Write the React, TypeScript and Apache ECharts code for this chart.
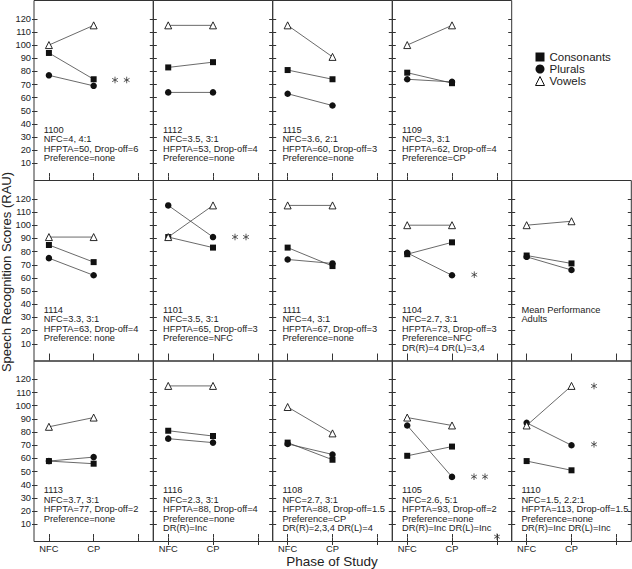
import React, { useEffect, useRef } from "react";
import * as echarts from "echarts";

// ---------- data ----------
const phases = ["NFC", "CP"];
const phaseX = [1, 2];
const xTickValues = [1, 2, 3];
const yTickValues = [10, 20, 30, 40, 50, 60, 70, 80, 90, 100, 110, 120];
const seriesNames = ["Consonants", "Plurals", "Vowels"];

const panelIds = ["1100", "1112", "1115", "1109", "1114", "1101", "1111", "1104", "Mean", "1113", "1116", "1108", "1105", "1110"];
const panelRow = [0, 0, 0, 0, 1, 1, 1, 1, 1, 2, 2, 2, 2, 2];
const panelCol = [0, 1, 2, 3, 0, 1, 2, 3, 4, 0, 1, 2, 3, 4];

const consonants = [[94, 74], [83, 87], [81, 74], [79, 71], [85, 72], [91, 83], [83, 69], [78, 87], [77, 71], [58, 56], [81, 77], [72, 59], [62, 69], [58, 51]];
const plurals = [[77, 69], [64, 64], [63, 54], [74, 72], [75, 62], [115, 91], [74, 71], [79, 62], [76, 66], [58, 61], [75, 72], [71, 63], [85, 46], [87, 70]];
const vowels = [[100, 115], [115, 115], [115, 91], [100, 115], [91, 91], [91, 115], [115, 115], [100, 100], [100, 103], [84, 91], [115, 115], [99, 79], [91, 85], [85, 115]];

const panelNotes = [
  ["1100", "NFC=4, 4:1", "HFPTA=50, Drop-off=6", "Preference=none"],
  ["1112", "NFC=3.5, 3:1", "HFPTA=53, Drop-off=4", "Preference=none"],
  ["1115", "NFC=3.6, 2:1", "HFPTA=60, Drop-off=3", "Preference=none"],
  ["1109", "NFC=3, 3:1", "HFPTA=62, Drop-off=4", "Preference=CP"],
  ["1114", "NFC=3.3, 3:1", "HFPTA=63, Drop-off=4", "Preference: none"],
  ["1101", "NFC=3.5, 3:1", "HFPTA=65, Drop-off=3", "Preference=NFC"],
  ["1111", "NFC=4, 3:1", "HFPTA=67, Drop-off=3", "Preference=none"],
  ["1104", "NFC=2.7, 3:1", "HFPTA=73, Drop-off=3", "Preference=NFC", "DR(R)=4 DR(L)=3,4"],
  ["Mean Performance", "Adults"],
  ["1113", "NFC=3.7, 3:1", "HFPTA=77, Drop-off=2", "Preference=none"],
  ["1116", "NFC=2.3, 3:1", "HFPTA=88, Drop-off=4", "Preference=none", "DR(R)=Inc"],
  ["1108", "NFC=2.7, 3:1", "HFPTA=88, Drop-off=1.5", "Preference=CP", "DR(R)=2,3,4 DR(L)=4"],
  ["1105", "NFC=2.6, 5:1", "HFPTA=93, Drop-off=2", "Preference=none", "DR(R)=Inc DR(L)=Inc"],
  ["1110", "NFC=1.5, 2.2:1", "HFPTA=113, Drop-off=1.5", "Preference=none", "DR(R)=Inc DR(L)=Inc"],
];

// significance asterisks: [panel index, offset x, offset y] within panel
const asterisks = [
  [0, 81, 79.5], [0, 92.7, 79.5],
  [5, 81.7, 56.5], [5, 92.7, 56.5],
  [7, 82, 94.2],
  [12, 81.7, 115.7], [12, 92.7, 115.7], [12, 104.7, 175.7],
  [13, 82.3, 25], [13, 82.3, 83.3],
];

// ---------- layout ----------
const colEdges = [34, 153.3, 272.7, 392.3, 511.7, 631.3];
const rowEdges = [0.5, 180.5, 361, 541.5];
const FONT = '"Liberation Sans", Arial, sans-serif';
const INK = "#222";
const FRAME = "#333";

function buildOption() {
  const grid: any[] = [];
  const xAxis: any[] = [];
  const yAxis: any[] = [];
  const series: any[] = [];
  const graphic: any[] = [];

  const tickStyle = { color: FRAME, width: 1 };

  panelIds.forEach((id, p) => {
    const r = panelRow[p];
    const c = panelCol[p];
    const left = colEdges[c];
    const top = rowEdges[r];
    const width = colEdges[c + 1] - left;
    const height = rowEdges[r + 1] - top;
    grid.push({ left, top, width, height, show: true, borderColor: FRAME, borderWidth: 1, backgroundColor: "transparent" });

    const xBase = {
      gridIndex: p, type: "value", min: 2 / 3, max: 10 / 3,
      axisLine: { show: false }, splitLine: { show: false },
      axisTick: { show: true, inside: true, length: 3.5, customValues: xTickValues, lineStyle: tickStyle },
      axisLabel: { show: false },
    };
    const xi = xAxis.length;
    xAxis.push({ ...xBase, position: "bottom" });
    xAxis.push({ ...xBase, position: "top" });
    if (r === 2) {
      xAxis.push({
        ...xBase, position: "bottom",
        axisTick: { show: true, inside: false, length: 3.5, customValues: xTickValues, lineStyle: tickStyle },
        axisLabel: {
          show: true, customValues: phaseX, margin: 3, fontSize: 9.3, fontFamily: FONT, color: INK,
          formatter: (v: number) => phases[phaseX.indexOf(v)] ?? "",
        },
      });
    }

    const yBase = {
      gridIndex: p, type: "value", min: -3, max: 133.9,
      axisLine: { show: false }, splitLine: { show: false },
      axisTick: { show: true, inside: true, length: 3.5, customValues: yTickValues, lineStyle: tickStyle },
      axisLabel: { show: false },
    };
    const yi = yAxis.length;
    yAxis.push({ ...yBase, position: "left" });
    yAxis.push({ ...yBase, position: "right" });
    if (c === 0) {
      yAxis.push({
        ...yBase, position: "left",
        axisTick: { show: true, inside: false, length: 2, customValues: yTickValues, lineStyle: tickStyle },
        axisLabel: { show: true, customValues: yTickValues, margin: 3, fontSize: 9.3, fontFamily: FONT, color: INK },
      });
    }

    const sets = [consonants[p], plurals[p], vowels[p]];
    sets.forEach((vals, k) => {
      const symbol = k === 0 ? "rect" : k === 1 ? "circle" : "triangle";
      const symbolSize = k === 0 ? 6 : k === 1 ? 6.5 : 7;
      const itemStyle = k === 2
        ? { color: "#fff", borderColor: "#111", borderWidth: 0.9 }
        : { color: "#111", borderWidth: 0 };
      series.push({
        type: "line", name: seriesNames[k], xAxisIndex: xi, yAxisIndex: yi,
        data: phaseX.map((x, j) => [x, vals[j]]),
        symbol, symbolSize, showSymbol: true, itemStyle,
        lineStyle: { color: "#444", width: 0.8 },
        z: 2 + k, silent: true,
      });
    });

    panelNotes[p].forEach((line, i) => {
      graphic.push({
        type: "text", silent: true,
        style: {
          text: line, x: left + 9.7, y: top + 129.2 + 9.5 * i,
          font: `9.3px ${FONT}`, fill: INK, verticalAlign: "middle", align: "left",
        },
      });
    });
  });

  // asterisks drawn as six-armed stars
  asterisks.forEach(([p, dx, dy]) => {
    const left = colEdges[panelCol[p]];
    const top = rowEdges[panelRow[p]];
    const rr = 3.3;
    const children = [90, 30, 150].map((a) => {
      const rad = (a * Math.PI) / 180;
      const ex = rr * Math.cos(rad);
      const ey = rr * Math.sin(rad);
      return { type: "line", shape: { x1: -ex, y1: -ey, x2: ex, y2: ey }, style: { stroke: "#333", lineWidth: 0.8 } };
    });
    graphic.push({ type: "group", x: left + dx, y: top + dy, silent: true, children });
  });

  // axis titles
  graphic.push({
    type: "text", silent: true, x: 6, y: 272, rotation: Math.PI / 2,
    style: { text: "Speech Recognition Scores (RAU)", font: `13px ${FONT}`, fill: INK, align: "center", verticalAlign: "middle" },
  });
  graphic.push({
    type: "text", silent: true, x: 332, y: 561.5,
    style: { text: "Phase of Study", font: `13.5px ${FONT}`, fill: INK, align: "center", verticalAlign: "middle" },
  });

  return {
    animation: false,
    backgroundColor: "#fff",
    grid, xAxis, yAxis, series, graphic,
    legend: {
      orient: "vertical", left: 535, top: 51, padding: 0,
      itemWidth: 9, itemHeight: 9, itemGap: 0, selectedMode: false,
      textStyle: { fontSize: 11.5, fontFamily: FONT, color: INK, lineHeight: 12 },
      data: [
        { name: "Consonants", icon: "rect", itemStyle: { color: "#111", borderWidth: 0 } },
        { name: "Plurals", icon: "circle", itemStyle: { color: "#111", borderWidth: 0 } },
        { name: "Vowels", icon: "triangle", itemStyle: { color: "#fff", borderColor: "#111", borderWidth: 1 } },
      ],
    },
  };
}

export default function App() {
  const ref = useRef<HTMLDivElement>(null);
  useEffect(() => {
    if (!ref.current) return;
    const chart = echarts.init(ref.current, undefined, { renderer: "svg" });
    chart.setOption(buildOption() as any);
    return () => chart.dispose();
  }, []);
  return (
    <div
      ref={ref}
      style={{ position: "absolute", left: 0, top: 0, width: 632, height: 569, background: "#fff" }}
    />
  );
}
